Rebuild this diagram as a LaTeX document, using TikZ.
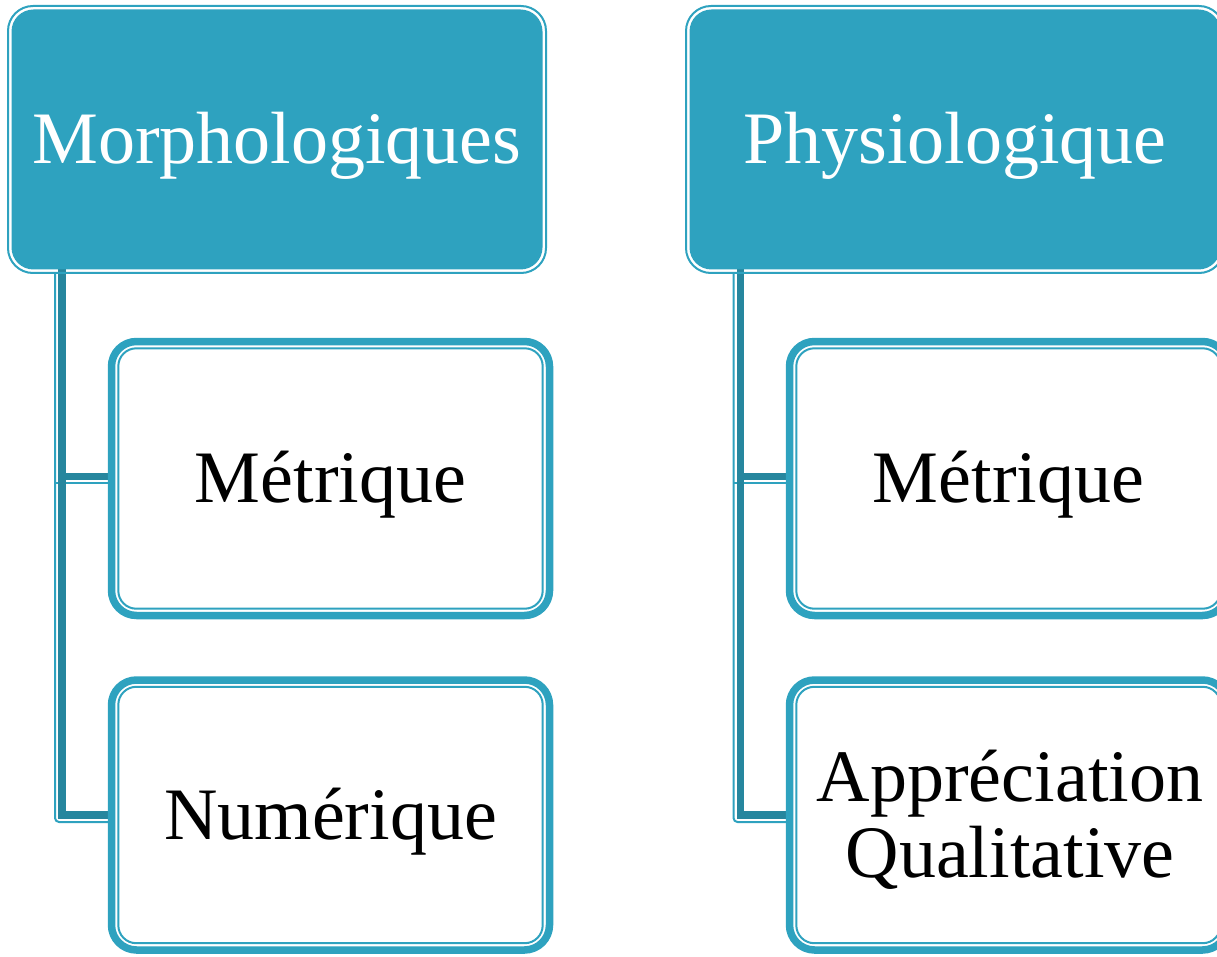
\documentclass[tikz,border=0pt]{standalone}
\usepackage{fontspec}
\setmainfont{Liberation Serif}
\usetikzlibrary{calc}
\definecolor{teal1}{RGB}{46,162,191}
\definecolor{teal2}{RGB}{38,134,158}
\tikzset{
  hdr/.style={rectangle, fill=teal1, draw=none, rounded corners=22pt, outer sep=0pt, inner sep=0pt, minimum width=531pt, minimum height=260pt},
  hdrline/.style={draw=teal1, line width=2pt, rounded corners=25pt},
  child/.style={rectangle, fill=white, draw=teal1, line width=7.5pt, rounded corners=25pt, outer sep=0pt, inner sep=0pt, minimum width=438pt},
  childline/.style={draw=teal1, line width=2pt, rounded corners=18pt},
  conthick/.style={draw=teal2, line width=7.5pt},
  conthin/.style={draw=teal1, line width=2pt, rounded corners=4pt},
  lbl/.style={inner sep=0pt, outer sep=0pt, anchor=base, font=\fontsize{74}{76}\selectfont},
}
\begin{document}
\begin{tikzpicture}[x=1pt, y=-1pt]
\useasboundingbox (0,0) rectangle (1217,957);
\clip (0,0) rectangle (1217,957);
\path
  coordinate (h1c) at (277,139.5)
  coordinate (h2c) at (955,139.5)
  coordinate (c1c) at (330.5,478.5)
  coordinate (c2c) at (330.5,815)
  coordinate (c3c) at (1008.5,478.5)
  coordinate (c4c) at (1008.5,815);
% connector anchors
\coordinate (t1) at (62,269.5);
\coordinate (t2) at (740.5,269.5);
\coordinate (s1) at (55,273);
\coordinate (s2) at (733.5,273);
% connectors: thin light lines
\draw[conthin] (s1) |- (111.5,822) ;
\draw[conthin] (s1 |- 0,483) -- (111.5,483);
\draw[conthin] (s2) |- (790,822);
\draw[conthin] (s2 |- 0,483) -- (790,483);
% connectors: thick dark lines
\draw[conthick] (t1) |- (111.5,815);
\draw[conthick] (t1 |- 0,476.5) -- (111.5,476.5);
\draw[conthick] (t2) |- (790,815);
\draw[conthick] (t2 |- 0,476.5) -- (790,476.5);
% headers
\node[hdr] (h1) at (h1c) {};
\node[hdr] (h2) at (h2c) {};
\draw[hdrline] ($(h1.north west)+(-3.5,-3.5)$) rectangle ($(h1.south east)+(3.5,3.5)$);
\draw[hdrline] ($(h2.north west)+(-3.5,-3.5)$) rectangle ($(h2.south east)+(3.5,3.5)$);
% children
\node[child, minimum height=274pt] (c1) at (c1c) {};
\node[child, minimum height=270pt] (c2) at (c2c) {};
\node[child, minimum height=274pt] (c3) at (c3c) {};
\node[child, minimum height=270pt] (c4) at (c4c) {};
\foreach \n in {c1,c2,c3,c4}{
  \draw[childline] ($(\n.north west)+(6.8,6.8)$) rectangle ($(\n.south east)+(-6.8,-6.8)$);
}
% labels
\node[lbl, text=white] (l1) at (277,163.5) {Morphologiques};
\node[lbl, text=white] (l2) at (955,163.5) {Physiologique};
\node[lbl] (l3) at (330.5,502.5) {Métrique};
\node[lbl] (l4) at (330.5,839) {Numérique};
\node[lbl] (l5) at (1008.5,502.5) {Métrique};
\node[lbl] (l6) at (1010,801) {Appréciation};
\node[lbl] (l7) at (1010,877) {Qualitative};
\end{tikzpicture}
\end{document}
